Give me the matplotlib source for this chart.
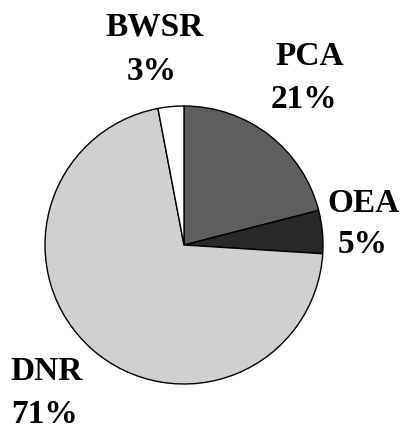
import matplotlib
matplotlib.use("Agg")
import matplotlib.pyplot as plt

# share of funding by agency (percent)
agencies = ["PCA", "OEA", "DNR", "BWSR"]
shares = [21, 5, 71, 3]
colors = ["#5e5e5e", "#282828", "#d0d0d0", "#ffffff"]

fig = plt.figure(figsize=(4.06, 4.33), dpi=100)
ax = fig.add_axes([0, 0, 1, 1])

ax.pie(shares, colors=colors, startangle=90, counterclock=False,
       center=(184, 188), radius=139,
       wedgeprops={"edgecolor": "black", "linewidth": 1.0})

# pie() sets its own limits, so fix pixel-like limits afterwards
ax.set_xlim(0, 406)
ax.set_ylim(0, 433)
ax.set_aspect("equal")
ax.axis("off")

# label positions: (x name, x pct, baseline of name, baseline of pct), y from bottom
label_pos = {"PCA": (310, 304, 368, 325),
             "OEA": (364, 363, 221, 180),
             "DNR": (47, 45, 53, 10),
             "BWSR": (155, 152, 398, 353)}
for name, val in zip(agencies, shares):
    x1, x2, y1, y2 = label_pos[name]
    ax.text(x1, y1, name, ha="center", va="baseline",
            fontsize=24, fontweight="bold", family="Liberation Serif")
    ax.text(x2, y2, str(val) + "%", ha="center", va="baseline",
            fontsize=24, fontweight="bold", family="Liberation Serif")

fig.savefig("out.png", dpi=100)
